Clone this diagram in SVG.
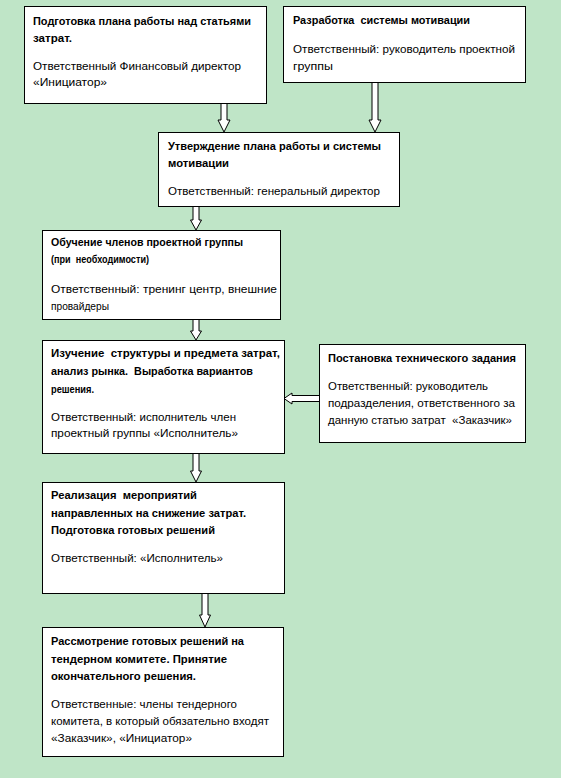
<svg xmlns="http://www.w3.org/2000/svg" width="561" height="778" viewBox="0 0 561 778">
<style>
.bg{fill:#bfe5c7}
.box{fill:#fff;stroke:#000;stroke-width:1}
.arr{fill:#fff;stroke:#000;stroke-width:1;stroke-linejoin:miter}
text{font-family:"Liberation Sans",Arial,sans-serif;font-size:11.5px;fill:#000}
.h{font-weight:bold}
</style>
<rect class="bg" x="0" y="0" width="561" height="778"/>
<g id="connectors">
<path class="arr" d="M221,104 L221,120 L218,120 L224,132 L230,120 L227,120 L227,104"/>
<path class="arr" d="M372,83 L372,120 L369,120 L375,132 L381,120 L378,120 L378,83"/>
<path class="arr" d="M193,207 L193,220 L190.5,220 L196,230 L201.5,220 L199,220 L199,207"/>
<path class="arr" d="M193,320 L193,331 L190.5,331 L196,340 L201.5,331 L199,331 L199,320"/>
<path class="arr" d="M193,454 L193,471 L190.5,471 L196,482 L201.5,471 L199,471 L199,454"/>
<path class="arr" d="M202,594 L202,615 L199.5,615 L205,627 L210.5,615 L208,615 L208,594"/>
<path class="arr" d="M319,395.5 L292,395.5 L292,393 L284,398.5 L292,404 L292,401.5 L319,401.5"/>
</g>
<g id="node1">
<rect class="box" x="24.5" y="6.5" width="242" height="97"/>
<text class="h" x="33" y="25" textLength="218" lengthAdjust="spacingAndGlyphs">Подготовка плана работы над статьями</text>
<text class="h" x="33" y="42" textLength="39" lengthAdjust="spacingAndGlyphs">затрат.</text>
<text x="33" y="70" textLength="208" lengthAdjust="spacingAndGlyphs">Ответственный Финансовый директор</text>
<text x="33" y="86" textLength="74" lengthAdjust="spacingAndGlyphs">«Инициатор»</text>
</g>
<g id="node2">
<rect class="box" x="283.5" y="6.5" width="242" height="76"/>
<text class="h" x="293" y="24" textLength="177" lengthAdjust="spacingAndGlyphs" xml:space="preserve">Разработка  системы мотивации</text>
<text x="293" y="53" textLength="222" lengthAdjust="spacingAndGlyphs">Ответственный: руководитель проектной</text>
<text x="293" y="70" textLength="40" lengthAdjust="spacingAndGlyphs">группы</text>
</g>
<g id="node3">
<rect class="box" x="158.5" y="132.5" width="241" height="74"/>
<text class="h" x="168" y="150" textLength="213" lengthAdjust="spacingAndGlyphs">Утверждение плана работы и системы</text>
<text class="h" x="168" y="167" textLength="61" lengthAdjust="spacingAndGlyphs">мотивации</text>
<text x="168" y="195" textLength="212" lengthAdjust="spacingAndGlyphs">Ответственный: генеральный директор</text>
</g>
<g id="node4">
<rect class="box" x="42.5" y="230.5" width="238" height="89"/>
<text class="h" x="51" y="246" textLength="192" lengthAdjust="spacingAndGlyphs">Обучение членов проектной группы</text>
<text class="h" x="51" y="263" textLength="98" lengthAdjust="spacingAndGlyphs" xml:space="preserve">(при  необходимости)</text>
<text x="51" y="293" textLength="226" lengthAdjust="spacingAndGlyphs">Ответственный: тренинг центр, внешние</text>
<text x="51" y="310" textLength="58" lengthAdjust="spacingAndGlyphs">провайдеры</text>
</g>
<g id="node5">
<rect class="box" x="42.5" y="340.5" width="242" height="113"/>
<text class="h" x="51" y="357" textLength="229" lengthAdjust="spacingAndGlyphs" xml:space="preserve">Изучение  структуры и предмета затрат,</text>
<text class="h" x="51" y="375" textLength="202" lengthAdjust="spacingAndGlyphs" xml:space="preserve">анализ рынка.  Выработка вариантов</text>
<text class="h" x="51" y="393" textLength="43" lengthAdjust="spacingAndGlyphs">решения.</text>
<text x="51" y="421" textLength="185" lengthAdjust="spacingAndGlyphs">Ответственный: исполнитель член</text>
<text x="51" y="437" textLength="187" lengthAdjust="spacingAndGlyphs">проектный группы «Исполнитель»</text>
</g>
<g id="node6">
<rect class="box" x="319.5" y="344.5" width="206" height="98"/>
<text class="h" x="328" y="362" textLength="188" lengthAdjust="spacingAndGlyphs">Постановка технического задания</text>
<text x="328" y="390" textLength="160" lengthAdjust="spacingAndGlyphs">Ответственный: руководитель</text>
<text x="328" y="407" textLength="187" lengthAdjust="spacingAndGlyphs">подразделения, ответственного за</text>
<text x="328" y="424" textLength="184" lengthAdjust="spacingAndGlyphs" xml:space="preserve">данную статью затрат  «Заказчик»</text>
</g>
<g id="node7">
<rect class="box" x="42.5" y="482.5" width="242" height="111"/>
<text class="h" x="51" y="499" textLength="146" lengthAdjust="spacingAndGlyphs" xml:space="preserve">Реализация  мероприятий</text>
<text class="h" x="51" y="517" textLength="195" lengthAdjust="spacingAndGlyphs">направленных на снижение затрат.</text>
<text class="h" x="51" y="534" textLength="164" lengthAdjust="spacingAndGlyphs">Подготовка готовых решений</text>
<text x="51" y="562" textLength="172" lengthAdjust="spacingAndGlyphs">Ответственный: «Исполнитель»</text>
</g>
<g id="node8">
<rect class="box" x="42.5" y="627.5" width="241" height="129"/>
<text class="h" x="51" y="645" textLength="193" lengthAdjust="spacingAndGlyphs">Рассмотрение готовых решений на</text>
<text class="h" x="51" y="663" textLength="176" lengthAdjust="spacingAndGlyphs">тендерном комитете. Принятие</text>
<text class="h" x="51" y="680" textLength="145" lengthAdjust="spacingAndGlyphs">окончательного решения.</text>
<text x="51" y="708" textLength="186" lengthAdjust="spacingAndGlyphs">Ответственные: члены тендерного</text>
<text x="51" y="725" textLength="218" lengthAdjust="spacingAndGlyphs">комитета, в который обязательно входят</text>
<text x="51" y="742" textLength="141" lengthAdjust="spacingAndGlyphs">«Заказчик», «Инициатор»</text>
</g>
</svg>
